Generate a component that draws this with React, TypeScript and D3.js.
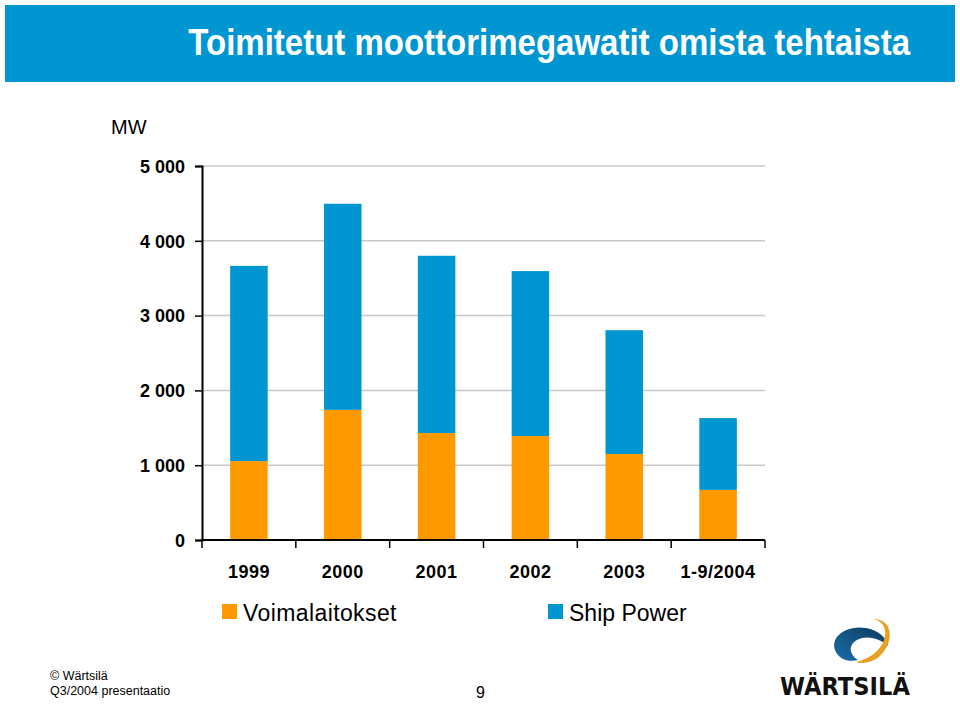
import { useEffect, useRef } from "react"
import * as d3 from "d3"

const categories = ["1999", "2000", "2001", "2002", "2003", "1-9/2004"]
const voimalaitokset = [1055, 1740, 1430, 1390, 1150, 670]
const shipPower = [2610, 2755, 2370, 2205, 1655, 960]
const yTicks = [0, 1000, 2000, 3000, 4000, 5000]
const seriesNames = ["Voimalaitokset", "Ship Power"]
const seriesColors = ["#FF9900", "#0096D2"]

const fmt = (v: number) => d3.format(",")(v).replace(/,/g, " ")

// squeeze a text horizontally to a target width, anchored at its end or start
function fitText(t: d3.Selection<SVGTextElement, unknown, null, undefined>, x: number, y: number, width: number) {
  const w = (t.node() as SVGTextElement).getComputedTextLength() || width
  t.attr("x", 0).attr("y", 0).attr("transform", `translate(${x},${y}) scale(${Math.min(1, width / w)},1)`)
}

export default function App() {
  const svgRef = useRef<SVGSVGElement>(null)

  useEffect(() => {
    if (!svgRef.current) return
    const svg = d3.select(svgRef.current)
    svg.selectAll("*").remove()

    const font = "Liberation Sans, Arial, sans-serif"

    // header band
    svg.append("rect").attr("x", 5).attr("y", 5).attr("width", 950).attr("height", 77).attr("fill", "#0096D2")
    const title = svg
      .append("text")
      .attr("text-anchor", "end")
      .style("font-family", font)
      .style("font-size", "37px")
      .style("font-weight", "bold")
      .style("fill", "#fff")
      .text("Toimitetut moottorimegawatit omista tehtaista")
    fitText(title as any, 910, 55, 722)

    const x = d3.scaleBand<string>().domain(categories).range([202, 765]).paddingInner(0.6).paddingOuter(0.3)
    const y = d3.scaleLinear().domain([0, 5000]).range([540, 166])

    // grid
    svg
      .append("g")
      .selectAll("line")
      .data(yTicks.filter((t) => t > 0))
      .join("line")
      .attr("x1", 202)
      .attr("x2", 765)
      .attr("y1", (d) => y(d))
      .attr("y2", (d) => y(d))
      .attr("stroke", "#c8c8c8")
      .attr("stroke-width", 1.5)

    // stacked bars
    const rows = categories.map((c, i) => ({ cat: c, v: voimalaitokset[i], s: shipPower[i] }))
    const stack = d3.stack<{ cat: string; v: number; s: number }>().keys(["v", "s"])(rows)
    stack.forEach((layer, li) => {
      svg
        .append("g")
        .selectAll("rect")
        .data(layer)
        .join("rect")
        .attr("x", (d) => x(d.data.cat)!)
        .attr("width", x.bandwidth())
        .attr("y", (d) => y(d[1]))
        .attr("height", (d) => y(d[0]) - y(d[1]))
        .attr("fill", seriesColors[li])
    })

    // y axis
    const ya = svg
      .append("g")
      .attr("transform", "translate(202,0)")
      .call(d3.axisLeft(y).tickValues(yTicks).tickSize(7).tickPadding(10).tickFormat((d) => fmt(d as number)))
    ya.select(".domain").attr("stroke", "#000").attr("stroke-width", 2)
    ya.selectAll(".tick line").attr("stroke", "#000").attr("stroke-width", 1.5)
    ya.selectAll(".tick text")
      .style("font-family", font)
      .style("font-size", "18px")
      .style("font-weight", "bold")
      .attr("dy", "0.35em")
      .attr("fill", "#000")

    // x axis
    const xa = svg.append("g").attr("transform", "translate(0,540)")
    xa.append("line").attr("x1", 201).attr("x2", 765).attr("stroke", "#000").attr("stroke-width", 2)
    const step = x.step()
    const edges = d3.range(categories.length + 1).map((i) => 202 + i * step)
    xa.selectAll("line.tk")
      .data(edges)
      .join("line")
      .attr("class", "tk")
      .attr("x1", (d) => d)
      .attr("x2", (d) => d)
      .attr("y1", 0)
      .attr("y2", 8)
      .attr("stroke", "#000")
      .attr("stroke-width", 1.5)
    xa.selectAll("text")
      .data(categories)
      .join("text")
      .attr("x", (d) => x(d)! + x.bandwidth() / 2)
      .attr("y", 38)
      .attr("text-anchor", "middle")
      .style("font-family", font)
      .style("font-size", "18px")
      .style("font-weight", "bold")
      .style("letter-spacing", "0.5px")
      .text((d) => d)

    svg
      .append("text")
      .attr("x", 111)
      .attr("y", 134)
      .style("font-family", font)
      .style("font-size", "20px")
      .text("MW")

    // legend
    const legendX = [222, 548]
    seriesNames.forEach((n, i) => {
      svg.append("rect").attr("x", legendX[i]).attr("y", 604).attr("width", 15).attr("height", 15).attr("fill", seriesColors[i])
      svg
        .append("text")
        .attr("x", legendX[i] + 21)
        .attr("y", 621)
        .style("font-family", font)
        .style("font-size", "23px")
        .style("letter-spacing", i === 0 ? "0.4px" : "0px")
        .text(n)
    })

    // footer
    svg.append("text").attr("x", 50).attr("y", 680).style("font-family", font).style("font-size", "12.5px").text("© Wärtsilä")
    svg.append("text").attr("x", 50).attr("y", 695).style("font-family", font).style("font-size", "12.5px").text("Q3/2004 presentaatio")
    svg.append("text").attr("x", 476).attr("y", 698).style("font-family", font).style("font-size", "16px").text("9")

    // logo
    const logo = svg.append("g")
    const grad = svg.append("defs").append("linearGradient").attr("id", "lg").attr("x1", "0").attr("x2", "1").attr("y1", "1").attr("y2", "0")
    grad.append("stop").attr("offset", "0").attr("stop-color", "#1a6ea8")
    grad.append("stop").attr("offset", "1").attr("stop-color", "#0c3b5e")
    logo
      .append("path")
      .attr("d", "M838,655 C826,640 844,624 866,628 C878,630 887,638 888,646 C882,640 872,636 862,638 C850,641 846,652 858,660 C850,662 842,660 838,655 Z")
      .attr("fill", "url(#lg)")
    logo
      .append("path")
      .attr("d", "M872,619 C892,618 896,640 880,656 C872,663 862,664 856,662 C868,659 880,652 884,640 C888,628 882,620 872,619 Z")
      .attr("fill", "#E8A020")
    const brand = logo
      .append("text")
      .style("font-family", "DejaVu Sans, sans-serif")
      .style("font-size", "25px")
      .style("font-weight", "bold")
      .style("fill", "#111")
      .text("WÄRTSILÄ")
    fitText(brand as any, 780, 695, 130)
  }, [])

  return (
    <svg ref={svgRef} width={960} height={706} style={{ position: "absolute", left: 0, top: 0, background: "#fff" }} />
  )
}
